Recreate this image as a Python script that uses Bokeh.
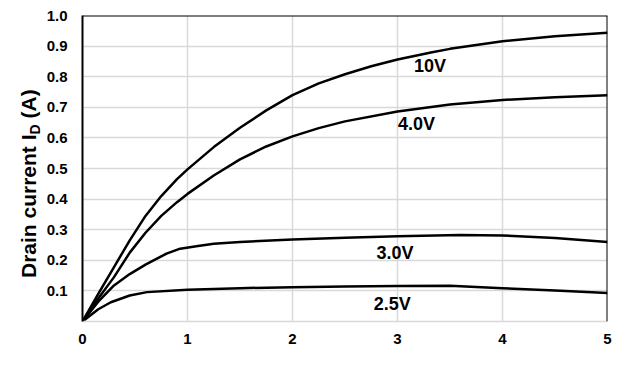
from bokeh.plotting import figure
from bokeh.models import FixedTicker, Label, Range1d, Span, Div
from bokeh.layouts import row
from bokeh.embed import file_html
from bokeh.resources import INLINE

# Drain-source voltage (V) and drain current (A) for each gate voltage
vds_10v = [0, 0.15, 0.3, 0.45, 0.6, 0.75, 0.9, 1.0, 1.25, 1.5, 1.75, 2.0, 2.25, 2.5, 2.75, 3.0, 3.33, 3.5, 4.0, 4.5, 5.0]
id_10v = [0, 0.09, 0.178, 0.265, 0.345, 0.41, 0.465, 0.497, 0.57, 0.633, 0.69, 0.74, 0.778, 0.808, 0.834, 0.856, 0.88, 0.891, 0.916, 0.932, 0.944]

vds_4v = [0, 0.15, 0.3, 0.45, 0.6, 0.75, 0.9, 1.0, 1.25, 1.5, 1.75, 2.0, 2.25, 2.5, 3.0, 3.5, 4.0, 4.5, 5.0]
id_4v = [0, 0.075, 0.145, 0.225, 0.29, 0.345, 0.39, 0.417, 0.477, 0.53, 0.572, 0.605, 0.632, 0.654, 0.686, 0.709, 0.724, 0.733, 0.739]

vds_3v = [0, 0.15, 0.3, 0.45, 0.6, 0.8, 0.93, 1.1, 1.25, 1.5, 2.0, 2.5, 3.0, 3.6, 4.0, 4.5, 5.0]
id_3v = [0, 0.065, 0.118, 0.155, 0.186, 0.222, 0.238, 0.247, 0.254, 0.26, 0.268, 0.274, 0.279, 0.283, 0.281, 0.273, 0.26]

vds_25v = [0, 0.15, 0.27, 0.45, 0.614, 1.0, 1.5, 2.0, 2.5, 3.0, 3.5, 4.0, 4.5, 5.0]
id_25v = [0, 0.04, 0.063, 0.085, 0.096, 0.104, 0.109, 0.112, 0.114, 0.116, 0.117, 0.109, 0.101, 0.093]

curve_labels = ["10V", "4.0V", "3.0V", "2.5V"]
label_x = [3.31, 3.18, 2.977, 2.95]
label_y = [0.835, 0.644, 0.224, 0.056]

y_ticks = [0.1, 0.2, 0.3, 0.4, 0.5, 0.6, 0.7, 0.8, 0.9, 1.0]
x_ticks = [0, 1, 2, 3, 4, 5]

font = "Liberation Sans"
grid_color = "#d9d9d9"

p = figure(width=581, height=373, output_backend="svg", toolbar_location=None,
           x_range=Range1d(0, 5), y_range=Range1d(0, 1.0),
           min_border_left=42, min_border_right=14, min_border_top=15, min_border_bottom=52)
p.outline_line_color = None
p.background_fill_color = "white"
p.border_fill_color = "white"

p.xgrid.ticker = FixedTicker(ticks=x_ticks)
p.ygrid.ticker = FixedTicker(ticks=y_ticks)
p.xgrid.grid_line_color = grid_color
p.ygrid.grid_line_color = grid_color
p.xgrid.grid_line_width = 1.5
p.ygrid.grid_line_width = 1.5

p.yaxis.ticker = FixedTicker(ticks=y_ticks)
p.yaxis.major_label_overrides = {t: f"{t:.1f}" for t in y_ticks}
p.yaxis.major_tick_out = 0
p.yaxis.major_tick_in = 0
p.yaxis.minor_tick_line_color = None
p.yaxis.major_label_standoff = 15
p.yaxis.major_label_text_font = font
p.yaxis.major_label_text_font_style = "bold"
p.yaxis.major_label_text_font_size = "15px"
p.yaxis.major_label_text_color = "black"
p.yaxis.axis_line_color = "black"
p.yaxis.axis_line_width = 2

p.xaxis.ticker = FixedTicker(ticks=x_ticks)
p.xaxis.major_tick_out = 0
p.xaxis.major_tick_in = 0
p.xaxis.minor_tick_line_color = None
p.xaxis.major_label_standoff = 12
p.xaxis.major_label_text_font = font
p.xaxis.major_label_text_font_style = "bold"
p.xaxis.major_label_text_font_size = "15px"
p.xaxis.major_label_text_color = "black"
p.xaxis.axis_line_color = grid_color
p.xaxis.axis_line_width = 1.5

# top and right frame edges
p.add_layout(Span(location=1.0, dimension="width", line_color="black", line_width=2))
p.add_layout(Span(location=5.0, dimension="height", line_color="black", line_width=2))

for xs, ys in [(vds_10v, id_10v), (vds_4v, id_4v), (vds_3v, id_3v), (vds_25v, id_25v)]:
    p.line(xs, ys, line_color="black", line_width=2.5)

for t, lx, ly in zip(curve_labels, label_x, label_y):
    p.add_layout(Label(x=lx, y=ly, text=t, text_align="center", text_baseline="middle",
                       text_font=font, text_font_style="bold", text_font_size="18px",
                       text_color="black"))

# Y axis title with subscript, rotated
title_html = (
    '<div style="position:relative;width:40px;height:373px;">'
    '<div style="position:absolute;left:18px;top:278px;transform-origin:0 0;'
    'transform:rotate(-90deg);white-space:nowrap;font-family:\'Liberation Sans\';'
    'font-weight:bold;font-size:21px;line-height:21px;color:black;">'
    'Drain current I<span style="font-size:14px;vertical-align:-4px;">D</span> (A)'
    '</div></div>'
)
ytitle = Div(text=title_html, width=40, height=373, margin=0)

layout = row(ytitle, p, spacing=0)
open("out.html", "w").write(file_html(layout, INLINE))
